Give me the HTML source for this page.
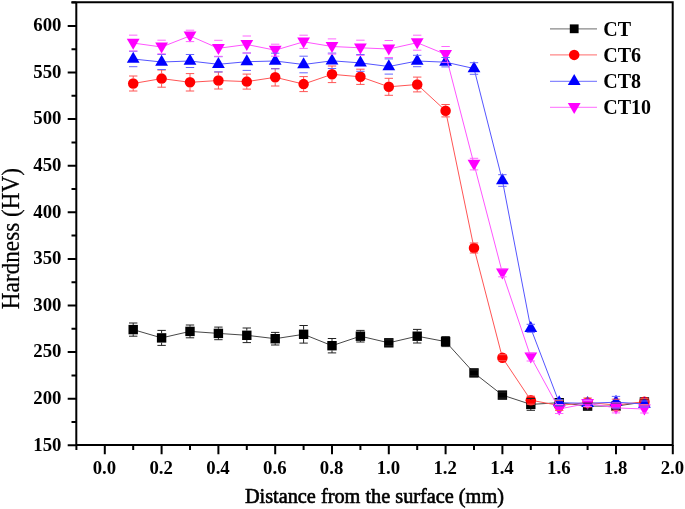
<!DOCTYPE html><html><head><meta charset="utf-8"><style>html,body{margin:0;padding:0;background:#fff;}svg{display:block;}text{font-family:"Liberation Serif",serif;}svg{will-change:transform;}</style></head><body>
<svg width="685" height="509" viewBox="0 0 685 509">
<rect width="685" height="509" fill="#fff"/>
<polyline points="133.2,329.6 161.6,337.9 190,331.4 218.4,333.4 246.8,335.3 275.2,338.7 303.6,334.3 332,345.7 360.4,336.2 388.8,342.8 417.2,336.2 445.6,341.6 474,372.9 502.4,395.1 530.8,404.4 559.2,402.7 587.6,406.1 616,406.1 644.4,402" fill="none" stroke="#484848" stroke-width="1"/>
<rect x="128.5" y="324.9" width="9.4" height="9.4" fill="#000"/><rect x="156.9" y="333.2" width="9.4" height="9.4" fill="#000"/><rect x="185.3" y="326.7" width="9.4" height="9.4" fill="#000"/><rect x="213.7" y="328.7" width="9.4" height="9.4" fill="#000"/><rect x="242.1" y="330.6" width="9.4" height="9.4" fill="#000"/><rect x="270.5" y="334" width="9.4" height="9.4" fill="#000"/><rect x="298.9" y="329.6" width="9.4" height="9.4" fill="#000"/><rect x="327.3" y="341" width="9.4" height="9.4" fill="#000"/><rect x="355.7" y="331.5" width="9.4" height="9.4" fill="#000"/><rect x="384.1" y="338.1" width="9.4" height="9.4" fill="#000"/><rect x="412.5" y="331.5" width="9.4" height="9.4" fill="#000"/><rect x="440.9" y="336.9" width="9.4" height="9.4" fill="#000"/><rect x="469.3" y="368.2" width="9.4" height="9.4" fill="#000"/><rect x="497.7" y="390.4" width="9.4" height="9.4" fill="#000"/><rect x="526.1" y="399.7" width="9.4" height="9.4" fill="#000"/><rect x="554.5" y="398" width="9.4" height="9.4" fill="#000"/><rect x="582.9" y="401.4" width="9.4" height="9.4" fill="#000"/><rect x="611.3" y="401.4" width="9.4" height="9.4" fill="#000"/><rect x="639.7" y="397.3" width="9.4" height="9.4" fill="#000"/>
<polyline points="133.2,83.5 161.6,78.6 190,82.3 218.4,80.5 246.8,81.6 275.2,77.3 303.6,84.1 332,74.3 360.4,76.8 388.8,86.8 417.2,84.5 445.6,110.7 474,248 502.4,357.7 530.8,400.2 559.2,405.5 587.6,402.5 616,405 644.4,401.7" fill="none" stroke="#f55" stroke-width="1"/>
<circle cx="133.2" cy="83.5" r="5.25" fill="#f00"/><circle cx="161.6" cy="78.6" r="5.25" fill="#f00"/><circle cx="190" cy="82.3" r="5.25" fill="#f00"/><circle cx="218.4" cy="80.5" r="5.25" fill="#f00"/><circle cx="246.8" cy="81.6" r="5.25" fill="#f00"/><circle cx="275.2" cy="77.3" r="5.25" fill="#f00"/><circle cx="303.6" cy="84.1" r="5.25" fill="#f00"/><circle cx="332" cy="74.3" r="5.25" fill="#f00"/><circle cx="360.4" cy="76.8" r="5.25" fill="#f00"/><circle cx="388.8" cy="86.8" r="5.25" fill="#f00"/><circle cx="417.2" cy="84.5" r="5.25" fill="#f00"/><circle cx="445.6" cy="110.7" r="5.25" fill="#f00"/><circle cx="474" cy="248" r="5.25" fill="#f00"/><circle cx="502.4" cy="357.7" r="5.25" fill="#f00"/><circle cx="530.8" cy="400.2" r="5.25" fill="#f00"/><circle cx="559.2" cy="405.5" r="5.25" fill="#f00"/><circle cx="587.6" cy="402.5" r="5.25" fill="#f00"/><circle cx="616" cy="405" r="5.25" fill="#f00"/><circle cx="644.4" cy="401.7" r="5.25" fill="#f00"/>
<polyline points="133.2,59 161.6,62 190,61 218.4,64.3 246.8,61.7 275.2,61 303.6,64.5 332,60.8 360.4,62.9 388.8,66.5 417.2,61 445.6,62.2 474,68.5 502.4,180.5 530.8,328.3 559.2,402.7 587.6,403.3 616,402.2 644.4,404" fill="none" stroke="#55f" stroke-width="1"/>
<path d="M133.2 51.63L139.6 62.63L126.8 62.63Z" fill="#00f"/><path d="M161.6 54.63L168 65.63L155.2 65.63Z" fill="#00f"/><path d="M190 53.63L196.4 64.63L183.6 64.63Z" fill="#00f"/><path d="M218.4 56.93L224.8 67.93L212 67.93Z" fill="#00f"/><path d="M246.8 54.33L253.2 65.33L240.4 65.33Z" fill="#00f"/><path d="M275.2 53.63L281.6 64.63L268.8 64.63Z" fill="#00f"/><path d="M303.6 57.13L310 68.13L297.2 68.13Z" fill="#00f"/><path d="M332 53.43L338.4 64.43L325.6 64.43Z" fill="#00f"/><path d="M360.4 55.53L366.8 66.53L354 66.53Z" fill="#00f"/><path d="M388.8 59.13L395.2 70.13L382.4 70.13Z" fill="#00f"/><path d="M417.2 53.63L423.6 64.63L410.8 64.63Z" fill="#00f"/><path d="M445.6 54.83L452 65.83L439.2 65.83Z" fill="#00f"/><path d="M474 61.13L480.4 72.13L467.6 72.13Z" fill="#00f"/><path d="M502.4 173.13L508.8 184.13L496 184.13Z" fill="#00f"/><path d="M530.8 320.93L537.2 331.93L524.4 331.93Z" fill="#00f"/><path d="M559.2 395.33L565.6 406.33L552.8 406.33Z" fill="#00f"/><path d="M587.6 395.93L594 406.93L581.2 406.93Z" fill="#00f"/><path d="M616 394.83L622.4 405.83L609.6 405.83Z" fill="#00f"/><path d="M644.4 396.63L650.8 407.63L638 407.63Z" fill="#00f"/>
<polyline points="133.2,43.05 161.6,47 190,35.9 218.4,48.3 246.8,44.5 275.2,50.2 303.6,41.8 332,46.5 360.4,47.8 388.8,49 417.2,42.7 445.6,54.4 474,164.1 502.4,272.8 530.8,357 559.2,409 587.6,403.4 616,407.9 644.4,409" fill="none" stroke="#f5f" stroke-width="1"/>
<path d="M133.2 49.65L139.6 38.65L126.8 38.65Z" fill="#f0f"/><path d="M161.6 53.6L168 42.6L155.2 42.6Z" fill="#f0f"/><path d="M190 42.5L196.4 31.5L183.6 31.5Z" fill="#f0f"/><path d="M218.4 54.9L224.8 43.9L212 43.9Z" fill="#f0f"/><path d="M246.8 51.1L253.2 40.1L240.4 40.1Z" fill="#f0f"/><path d="M275.2 56.8L281.6 45.8L268.8 45.8Z" fill="#f0f"/><path d="M303.6 48.4L310 37.4L297.2 37.4Z" fill="#f0f"/><path d="M332 53.1L338.4 42.1L325.6 42.1Z" fill="#f0f"/><path d="M360.4 54.4L366.8 43.4L354 43.4Z" fill="#f0f"/><path d="M388.8 55.6L395.2 44.6L382.4 44.6Z" fill="#f0f"/><path d="M417.2 49.3L423.6 38.3L410.8 38.3Z" fill="#f0f"/><path d="M445.6 61L452 50L439.2 50Z" fill="#f0f"/><path d="M474 170.7L480.4 159.7L467.6 159.7Z" fill="#f0f"/><path d="M502.4 279.4L508.8 268.4L496 268.4Z" fill="#f0f"/><path d="M530.8 363.6L537.2 352.6L524.4 352.6Z" fill="#f0f"/><path d="M559.2 415.6L565.6 404.6L552.8 404.6Z" fill="#f0f"/><path d="M587.6 410L594 399L581.2 399Z" fill="#f0f"/><path d="M616 414.5L622.4 403.5L609.6 403.5Z" fill="#f0f"/><path d="M644.4 415.6L650.8 404.6L638 404.6Z" fill="#f0f"/>
<path d="M133.2 323V325M133.2 334.2V336.2M129 323H137.4M129 336.2H137.4M161.6 330.4V333.3M161.6 342.5V345.4M157.4 330.4H165.8M157.4 345.4H165.8M190 325V326.8M190 336V337.8M185.8 325H194.2M185.8 337.8H194.2M218.4 327.1V328.8M218.4 338V339.7M214.2 327.1H222.6M214.2 339.7H222.6M246.8 328V330.7M246.8 339.9V342.6M242.6 328H251M242.6 342.6H251M275.2 332.4V334.1M275.2 343.3V345M271 332.4H279.4M271 345H279.4M303.6 325.5V329.7M303.6 338.9V343.1M299.4 325.5H307.8M299.4 343.1H307.8M332 338.5V341.1M332 350.3V352.9M327.8 338.5H336.2M327.8 352.9H336.2M360.4 330.4V331.6M360.4 340.8V342M356.2 330.4H364.6M356.2 342H364.6M384.6 339.8H393M384.6 345.8H393M417.2 329.4V331.6M417.2 340.8V343M413 329.4H421.4M413 343H421.4M445.6 336.6V337M445.6 346.2V346.6M441.4 336.6H449.8M441.4 346.6H449.8M469.8 369.9H478.2M469.8 375.9H478.2M498.2 392.1H506.6M498.2 398.1H506.6M530.8 398.5V399.8M530.8 409V410.3M526.6 398.5H535M526.6 410.3H535M555 399.7H563.4M555 405.7H563.4M583.4 403.1H591.8M583.4 409.1H591.8M611.8 403.1H620.2M611.8 409.1H620.2M640.2 399H648.6M640.2 405H648.6" fill="none" stroke="#222" stroke-width="1"/>
<path d="M133.2 76V78.4M133.2 88.6V91M129 76H137.4M129 91H137.4M161.6 70V73.5M161.6 83.7V87.2M157.4 70H165.8M157.4 87.2H165.8M190 73.6V77.2M190 87.4V91M185.8 73.6H194.2M185.8 91H194.2M218.4 72V75.4M218.4 85.6V89M214.2 72H222.6M214.2 89H222.6M246.8 74.1V76.5M246.8 86.7V89.1M242.6 74.1H251M242.6 89.1H251M275.2 68.6V72.2M275.2 82.4V86M271 68.6H279.4M271 86H279.4M303.6 76.6V79M303.6 89.2V91.6M299.4 76.6H307.8M299.4 91.6H307.8M332 66V69.2M332 79.4V82.6M327.8 66H336.2M327.8 82.6H336.2M360.4 69.2V71.7M360.4 81.9V84.4M356.2 69.2H364.6M356.2 84.4H364.6M388.8 78.3V81.7M388.8 91.9V95.3M384.6 78.3H393M384.6 95.3H393M417.2 77.1V79.4M417.2 89.6V91.9M413 77.1H421.4M413 91.9H421.4M445.6 104.5V105.6M445.6 115.8V116.9M441.4 104.5H449.8M441.4 116.9H449.8M469.8 243H478.2M469.8 253H478.2M498.2 354.7H506.6M498.2 360.7H506.6M526.6 396.2H535M526.6 404.2H535M555 400.6H563.4M555 410.4H563.4M583.4 398H591.8M583.4 407H591.8M616 399.2V399.9M616 410.1V410.8M611.8 399.2H620.2M611.8 410.8H620.2M640.2 398.7H648.6M640.2 404.7H648.6" fill="none" stroke="#f55" stroke-width="1"/>
<path d="M129 51.3H137.4M129 66.7H137.4M157.4 54.5H165.8M157.4 69.5H165.8M185.8 54.5H194.2M185.8 67.5H194.2M214.2 56.7H222.6M214.2 71.9H222.6M242.6 53H251M242.6 70.4H251M271 53.2H279.4M271 68.8H279.4M299.4 56.2H307.8M299.4 72.8H307.8M327.8 53.1H336.2M327.8 68.5H336.2M356.2 54.5H364.6M356.2 71.3H364.6M384.6 58.9H393M384.6 74.1H393M413 55.3H421.4M413 66.7H421.4M441.4 57.5H449.8M441.4 66.9H449.8M469.8 62.7H478.2M469.8 74.3H478.2M498.2 174.7H506.6M498.2 186.3H506.6M526.6 324.3H535M526.6 332.3H535M555 399.7H563.4M555 405.7H563.4M583.4 400.3H591.8M583.4 406.3H591.8M611.8 396.4H620.2M611.8 408H620.2M640.2 401H648.6M640.2 407H648.6" fill="none" stroke="#66f" stroke-width="1"/>
<path d="M129 35.15H137.4M129 50.95H137.4M157.4 40.2H165.8M157.4 53.8H165.8M185.8 30.2H194.2M185.8 41.6H194.2M214.2 40.3H222.6M214.2 56.3H222.6M242.6 36H251M242.6 53H251M271 44.2H279.4M271 56.2H279.4M299.4 35.2H307.8M299.4 48.4H307.8M327.8 38.9H336.2M327.8 54.1H336.2M356.2 40.2H364.6M356.2 55.4H364.6M384.6 40.5H393M384.6 57.5H393M413 35.2H421.4M413 50.2H421.4M441.4 46.5H449.8M441.4 62.3H449.8M469.8 158.3H478.2M469.8 169.9H478.2M498.2 268.8H506.6M498.2 276.8H506.6M526.6 353H535M526.6 361H535M555 404.5H563.4M555 413.5H563.4M583.4 400.4H591.8M583.4 406.4H591.8M611.8 402.9H620.2M611.8 412.9H620.2M640.2 405H648.6M640.2 413H648.6" fill="none" stroke="#f6f" stroke-width="1"/>
<g stroke="#000" stroke-width="2" fill="none">
<path d="M76.3 2.2V445M75.3 445H673.7M672.7 445V2.2M71.5 2.2H673.7"/>
<path d="M67.7 445.3H76.3M71.5 422H76.3M67.7 398.7H76.3M71.5 375.4H76.3M67.7 352.1H76.3M71.5 328.8H76.3M67.7 305.5H76.3M71.5 282.2H76.3M67.7 258.9H76.3M71.5 235.6H76.3M67.7 212.3H76.3M71.5 189H76.3M67.7 165.7H76.3M71.5 142.4H76.3M67.7 119.1H76.3M71.5 95.8H76.3M67.7 72.5H76.3M71.5 49.2H76.3M67.7 25.9H76.3M71.5 2.6H76.3M76.4 445V450M104.8 445V454.3M133.2 445V450M161.6 445V454.3M190 445V450M218.4 445V454.3M246.8 445V450M275.2 445V454.3M303.6 445V450M332 445V454.3M360.4 445V450M388.8 445V454.3M417.2 445V450M445.6 445V454.3M474 445V450M502.4 445V454.3M530.8 445V450M559.2 445V454.3M587.6 445V450M616 445V454.3M644.4 445V450M672.8 445V454.3"/>
</g>
<g font-size="18.8" font-weight="bold" fill="#000" text-anchor="end">
<text x="61.5" y="450.5">150</text>
<text x="61.5" y="403.9">200</text>
<text x="61.5" y="357.3">250</text>
<text x="61.5" y="310.7">300</text>
<text x="61.5" y="264.1">350</text>
<text x="61.5" y="217.5">400</text>
<text x="61.5" y="170.9">450</text>
<text x="61.5" y="124.3">500</text>
<text x="61.5" y="77.7">550</text>
<text x="61.5" y="31.1">600</text>
</g>
<g font-size="18.8" font-weight="bold" fill="#000" text-anchor="middle">
<text x="104.4" y="473.5">0.0</text>
<text x="161.2" y="473.5">0.2</text>
<text x="218" y="473.5">0.4</text>
<text x="274.8" y="473.5">0.6</text>
<text x="331.6" y="473.5">0.8</text>
<text x="388.4" y="473.5">1.0</text>
<text x="445.2" y="473.5">1.2</text>
<text x="502" y="473.5">1.4</text>
<text x="558.8" y="473.5">1.6</text>
<text x="615.6" y="473.5">1.8</text>
<text x="672.4" y="473.5">2.0</text>
</g>
<text x="374.4" y="503.3" font-size="20.3" text-anchor="middle" fill="#000" stroke="#000" stroke-width="0.6">Distance from the surface (mm)</text>
<text transform="translate(19.3 238.6) rotate(-90) scale(0.955 1)" font-size="24.3" text-anchor="middle" fill="#000" stroke="#000" stroke-width="0.25">Hardness (HV)</text>
<path d="M550 28.8H597" stroke="#888" stroke-width="1.2"/>
<rect x="569.8" y="24.4" width="8.8" height="8.8" fill="#000"/>
<text x="603.2" y="35.6" font-size="20" font-weight="bold" fill="#000">CT</text>
<path d="M550 54.9H597" stroke="#f88" stroke-width="1.2"/>
<circle cx="574.2" cy="54.9" r="5.25" fill="#f00"/>
<text x="603.2" y="61.7" font-size="20" font-weight="bold" fill="#000">CT6</text>
<path d="M550 81.4H597" stroke="#88f" stroke-width="1.2"/>
<path d="M574.2 74.03L580.6 85.03L567.8 85.03Z" fill="#00f"/>
<text x="603.2" y="88.2" font-size="20" font-weight="bold" fill="#000">CT8</text>
<path d="M550 107.3H597" stroke="#f8f" stroke-width="1.2"/>
<path d="M574.2 113.9L580.6 102.9L567.8 102.9Z" fill="#f0f"/>
<text x="603.2" y="114.1" font-size="20" font-weight="bold" fill="#000">CT10</text>
</svg></body></html>
